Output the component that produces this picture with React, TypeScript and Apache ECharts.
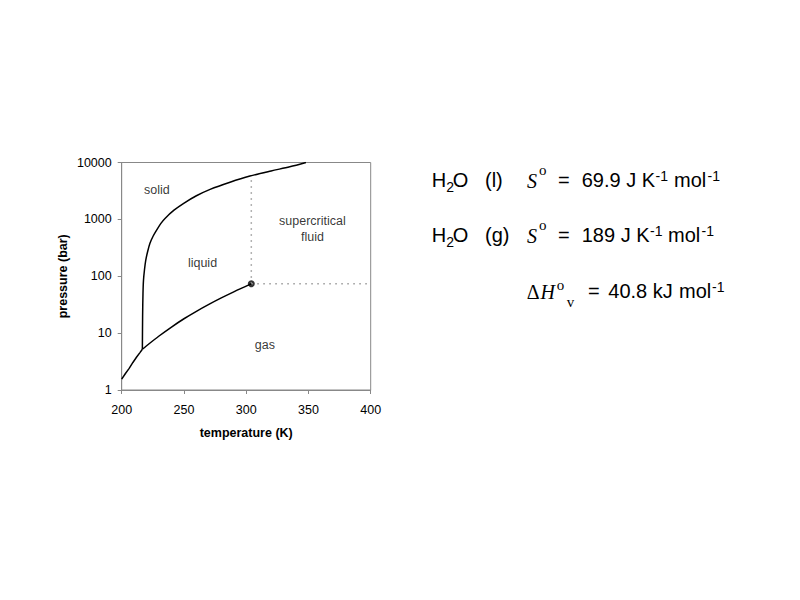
import React, { useEffect, useRef } from "react";
import * as echarts from "echarts";

// ---- data (temperature K, pressure bar) ----
const sublimationCurve: [number, number][] = [
  [200, 1.55], [203, 1.95], [206, 2.4], [209, 3.05], [212, 3.8], [214.5, 4.5], [216.6, 5.2],
];
const meltingCurve: [number, number][] = [
  [216.6, 5.2], [216.8, 20], [217.1, 50], [217.5, 85], [218.3, 130], [219.3, 190],
  [220.8, 270], [222.7, 380], [225.3, 510], [228.3, 660], [231.5, 850], [234.8, 1040],
  [242, 1450], [249.5, 1900], [260, 2600], [271, 3370], [287, 4500], [303, 5770],
  [320, 7100], [335, 8400], [348, 10000],
];
const vaporCurve: [number, number][] = [
  [216.6, 5.2], [220, 6.0], [230, 8.9], [240, 12.8], [250, 17.9], [260, 24.2],
  [270, 32.0], [280, 41.6], [290, 53.2], [300, 67.1], [304.1, 73.8],
];
const criticalPoint: [number, number] = [304.1, 73.8];
const criticalVertical: [number, number][] = [[304.1, 73.8], [304.1, 5600]];
const criticalHorizontal: [number, number][] = [[304.1, 73.8], [400, 73.8]];
const regionLabels: { name: string; value: [number, number] }[] = [
  { name: "solid", value: [228.3, 3270] },
  { name: "liquid", value: [264.9, 173] },
  { name: "supercritical\nfluid", value: [353.2, 684] },
  { name: "gas", value: [315, 6.2] },
];
const xRange = { min: 200, max: 400, interval: 50 };
const yRange = { min: 1, max: 10000 };
const xAxisName = "temperature (K)";
const yAxisName = "pressure (bar)";

const SANS = "Liberation Sans";
const SERIF = "Liberation Serif";

function txt(
  text: string,
  x: number,
  y: number,
  size: number,
  family: string,
  fontStyle: string = "normal"
) {
  return {
    type: "text",
    x,
    y,
    silent: true,
    style: {
      text,
      fontSize: size,
      fontFamily: family,
      fontStyle,
      fill: "#000",
      align: "left",
      verticalAlign: "middle",
      textAlign: "left",
      textVerticalAlign: "middle",
    },
  };
}

function rowElements(b: number, phase: string, value: string, sup1X: number, molX: number, sup2X: number) {
  const mainY = b - 6.9;
  const supY = b - 6.6 - 4.85;
  return [
    txt("H", 431.7, mainY, 20, SANS),
    txt("2", 446.2, b + 4.4 - 4.85, 14, SANS),
    txt("O", 452.7, mainY, 20, SANS),
    txt(phase, 485, mainY, 20, SANS),
    txt("S", 527, b - 6.75, 20, SERIF, "italic"),
    txt("o", 539, b - 12.3 - 5.06, 15, SERIF),
    txt("=", 558, mainY, 20, SANS),
    txt(value, 581.7, mainY, 20, SANS),
    txt("-1", sup1X, supY, 14, SANS),
    txt("mol", molX, mainY, 20, SANS),
    txt("-1", sup2X, supY, 14, SANS),
  ];
}

export default function App() {
  const ref = useRef<HTMLDivElement>(null);
  useEffect(() => {
    if (!ref.current) return;
    const chart = echarts.init(ref.current, undefined, { renderer: "svg" });
    const b3 = 298.3;
    const graphic = [
      ...rowElements(187.3, "(l)", "69.9 J K", 655.5, 674, 707.5),
      ...rowElements(242.3, "(g)", "189 J K", 650, 668, 701.5),
      txt("\u0394", 526.7, b3 - 6.75, 20, SERIF),
      txt("H", 540.5, b3 - 6.75, 20, SERIF, "italic"),
      txt("o", 556.7, 290 - 5.06, 15, SERIF),
      txt("v", 566.7, 307.3 - 5.06, 15, SERIF),
      txt("=", 588, b3 - 6.9, 20, SANS),
      txt("40.8 kJ", 608.3, b3 - 6.9, 20, SANS),
      txt("mol", 679, b3 - 6.9, 20, SANS),
      txt("-1", 712, b3 - 6.6 - 4.85, 14, SANS),
    ];
    const lineStyle = { color: "#000", width: 1.5 };
    const dotted = { color: "#999", width: 1.5, type: [1.5, 4.5] as any };
    chart.setOption({
      animation: false,
      backgroundColor: "#fff",
      textStyle: { fontFamily: SANS },
      grid: {
        left: 121.7,
        right: 429.3,
        top: 162.5,
        bottom: 210,
        show: true,
        borderColor: "#888",
        borderWidth: 1,
        containLabel: false,
      },
      xAxis: {
        type: "value",
        min: xRange.min,
        max: xRange.max,
        interval: xRange.interval,
        name: xAxisName,
        nameLocation: "middle",
        nameGap: 36,
        nameTextStyle: { fontSize: 12.5, fontWeight: "bold", color: "#000", fontFamily: SANS },
        axisLine: { show: true, lineStyle: { color: "#888", width: 1 } },
        axisTick: { show: true, length: 4, lineStyle: { color: "#888" } },
        axisLabel: { fontSize: 12.5, color: "#000", margin: 13, fontFamily: SANS },
        splitLine: { show: false },
      },
      yAxis: {
        type: "log",
        logBase: 10,
        min: yRange.min,
        max: yRange.max,
        name: yAxisName,
        nameLocation: "middle",
        nameGap: 52,
        nameRotate: 90,
        nameTextStyle: { fontSize: 12.5, fontWeight: "bold", color: "#000", fontFamily: SANS },
        axisLine: { show: true, lineStyle: { color: "#888", width: 1 } },
        axisTick: { show: true, length: 4, lineStyle: { color: "#888" } },
        axisLabel: {
          fontSize: 12.5,
          color: "#000",
          margin: 10,
          fontFamily: SANS,
          formatter: (v: number) => String(Math.round(v)),
        },
        splitLine: { show: false },
        minorTick: { show: false },
      },
      series: [
        { type: "line", data: criticalVertical, showSymbol: false, lineStyle: dotted, silent: true },
        { type: "line", data: criticalHorizontal, showSymbol: false, lineStyle: dotted, silent: true },
        { type: "line", data: sublimationCurve, showSymbol: false, lineStyle, silent: true },
        { type: "line", data: meltingCurve, showSymbol: false, lineStyle, silent: true, smooth: 0.3 },
        { type: "line", data: vaporCurve, showSymbol: false, lineStyle, silent: true, smooth: 0.3 },
        {
          type: "scatter",
          data: [criticalPoint],
          symbolSize: 7,
          itemStyle: { color: "#000" },
          silent: true,
        },
        {
          type: "scatter",
          data: regionLabels,
          symbolSize: 1,
          itemStyle: { color: "rgba(0,0,0,0)" },
          silent: true,
          label: {
            show: true,
            position: "inside",
            formatter: (p: any) => p.name,
            color: "#000",
            fontSize: 12.5,
            lineHeight: 16,
            fontFamily: SANS,
          },
        },
      ],
      graphic,
    });
    return () => chart.dispose();
  }, []);
  return (
    <div
      ref={ref}
      style={{ position: "absolute", left: 0, top: 0, width: 800, height: 600 }}
    />
  );
}
